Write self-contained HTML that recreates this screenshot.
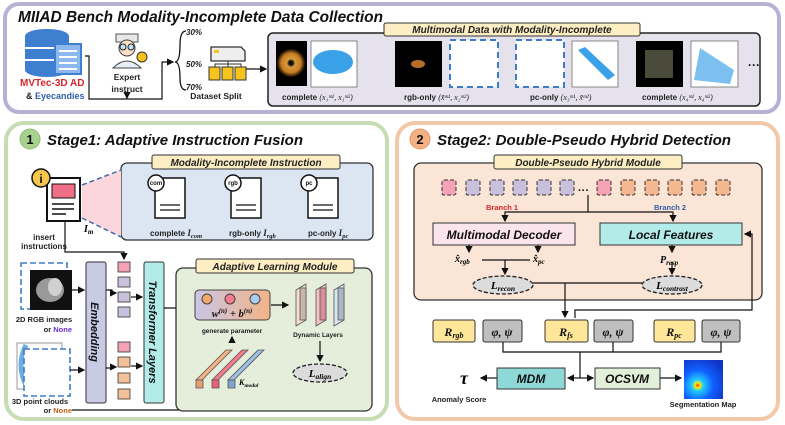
<!DOCTYPE html>
<html><head><meta charset="utf-8"><style>
html,body{margin:0;padding:0;background:#fff;}
svg{display:block;font-family:"Liberation Sans",sans-serif;}
.t{font-weight:bold;font-style:italic;}
.m{font-family:"Liberation Serif",serif;font-style:italic;font-weight:bold;}
</style></head><body>
<svg width="785" height="425" viewBox="0 0 785 425" xmlns="http://www.w3.org/2000/svg">
<defs>
<marker id="a" markerWidth="6" markerHeight="6" refX="5" refY="3" orient="auto"><path d="M0,0 L6,3 L0,6 z" fill="#111"/></marker>
<linearGradient id="g" x1="0" x2="1"><stop offset="0" stop-color="#c9c6e6"/><stop offset="1" stop-color="#f2b487"/></linearGradient>
<radialGradient id="seg" cx="0.35" cy="0.65" r="0.8"><stop offset="0" stop-color="#ff2200"/><stop offset="0.08" stop-color="#ffee00"/><stop offset="0.18" stop-color="#22ccff"/><stop offset="0.5" stop-color="#1060ff"/><stop offset="1" stop-color="#1030c0"/></radialGradient>
<radialGradient id="donut" cx="0.5" cy="0.5" r="0.5"><stop offset="0.15" stop-color="#111"/><stop offset="0.3" stop-color="#d89a3a"/><stop offset="0.7" stop-color="#c57d22"/><stop offset="0.95" stop-color="#2a1a08"/></radialGradient>
</defs>

<!-- TOP PANEL -->
<rect x="5" y="4" width="774" height="108" rx="14" fill="#fff" stroke="#b9b1d4" stroke-width="4"/>
<text x="18" y="22" class="t" font-size="15.5" fill="#111" textLength="365" lengthAdjust="spacingAndGlyphs">MIIAD Bench Modality-Incomplete Data Collection</text>
<!-- database -->
<ellipse cx="47" cy="36" rx="22" ry="7" fill="#3f7fd0"/>
<rect x="25" y="36" width="44" height="34" fill="#3f7fd0"/>
<ellipse cx="47" cy="70" rx="22" ry="7" fill="#3f7fd0"/>
<line x1="25" y1="48" x2="69" y2="48" stroke="#fff" stroke-width="2"/><line x1="25" y1="60" x2="69" y2="60" stroke="#fff" stroke-width="2"/>
<rect x="55" y="44" width="26" height="30" fill="#8db8ee" stroke="#3f7fd0" stroke-width="2"/>
<g stroke="#fff" stroke-width="2"><line x1="59" y1="51" x2="77" y2="51"/><line x1="59" y1="57" x2="77" y2="57"/><line x1="59" y1="63" x2="77" y2="63"/><line x1="59" y1="69" x2="77" y2="69"/></g>
<text x="20" y="86" font-size="10" font-weight="bold" fill="#d9262b">MVTec-3D AD</text>
<text x="26" y="99" font-size="9" font-weight="bold" fill="#222">&amp; <tspan fill="#2f5faa">Eyecandies</tspan></text>
<!-- expert -->
<rect x="116" y="34" width="22" height="8" fill="#e8e8e8" stroke="#555"/>
<circle cx="127" cy="48" r="8" fill="#fde1c6" stroke="#444"/>
<circle cx="123" cy="47" r="3" fill="#bfe4ff" stroke="#222"/><circle cx="131" cy="47" r="3" fill="#bfe4ff" stroke="#222"/>
<path d="M113,68 Q127,54 141,68 Z" fill="#e6eef7" stroke="#444"/>
<circle cx="142" cy="57" r="5" fill="#f7c41d" stroke="#333"/>
<text x="127" y="80" font-size="8.5" font-weight="bold" text-anchor="middle" fill="#222">Expert</text>
<text x="127" y="92" font-size="8.5" font-weight="bold" text-anchor="middle" fill="#222">instruct</text>
<polyline points="85,56 89,56 89,99 162,99 162,62 173,62" fill="none" stroke="#111" stroke-width="1.2" marker-end="url(#a)"/>
<line x1="127" y1="93" x2="127" y2="98" stroke="#111" stroke-width="1.2" marker-end="url(#a)"/>
<path d="M186,31 Q180,31 180,45 Q180,62 175,62 Q180,62 180,78 Q180,90 186,90" fill="none" stroke="#111" stroke-width="1.3"/>
<text x="186" y="35" class="t" font-size="8" fill="#222">30%</text>
<text x="186" y="67" class="t" font-size="8" fill="#222">50%</text>
<text x="186" y="90" class="t" font-size="8" fill="#222">70%</text>
<!-- dataset split icon -->
<path d="M211,47 h30 l4,4 v10 h-34 z" fill="#eee" stroke="#333" stroke-width="1.3"/>
<rect x="214" y="50" width="5" height="3" fill="#f7c41d"/>
<polyline points="228,61 228,64 215,64 215,67" fill="none" stroke="#333"/><line x1="228" y1="64" x2="228" y2="67" stroke="#333"/><polyline points="228,64 241,64 241,67" fill="none" stroke="#333"/>
<rect x="209" y="67" width="11" height="13" fill="#f7c41d" stroke="#333"/><rect x="222" y="67" width="11" height="13" fill="#f7c41d" stroke="#333"/><rect x="235" y="67" width="11" height="13" fill="#f7c41d" stroke="#333"/>
<text x="216" y="99" font-size="8.5" font-weight="bold" text-anchor="middle" fill="#222">Dataset Split</text>
<line x1="246" y1="69" x2="266" y2="69" stroke="#111" stroke-width="1.2" marker-end="url(#a)"/>
<!-- data box -->
<rect x="268" y="33" width="492" height="73" rx="5" fill="#e5e2ee" stroke="#222" stroke-width="1.5"/>
<rect x="384" y="23" width="256" height="13" rx="2" fill="#fdefc3" stroke="#333"/>
<text x="512" y="33" class="t" font-size="10" text-anchor="middle" fill="#222">Multimodal Data with Modality-Incomplete</text>
<rect x="276" y="41" width="31" height="45" fill="#000"/><circle cx="291" cy="63" r="14" fill="url(#donut)"/>
<rect x="311" y="41" width="46" height="46" fill="#fff" stroke="#888"/><ellipse cx="333" cy="62" rx="20" ry="12" fill="#3aa0e8"/>
<rect x="395" y="41" width="47" height="46" fill="#000"/><ellipse cx="418" cy="64" rx="7" ry="4" fill="#b86e2a"/>
<rect x="450" y="40" width="48" height="47" fill="#fff" stroke="#3d7cc9" stroke-width="2" stroke-dasharray="6,4"/>
<rect x="516" y="40" width="48" height="47" fill="#fff" stroke="#3d7cc9" stroke-width="2" stroke-dasharray="6,4"/>
<rect x="572" y="41" width="46" height="46" fill="#fff" stroke="#888"/><path d="M578,50 L585,47 L615,75 L608,80 Z" fill="#3aa0e8"/>
<rect x="636" y="41" width="47" height="46" fill="#000"/><rect x="645" y="50" width="28" height="28" fill="#4a4a3a"/>
<rect x="691" y="41" width="47" height="46" fill="#fff" stroke="#888"/><path d="M694,80 L700,48 L734,70 L730,84 Z" fill="#7cc0f0"/>
<text x="748" y="69" font-size="12" font-weight="bold" fill="#111">···</text>
<g font-size="8" font-weight="bold" fill="#222">
<text x="282" y="100">complete <tspan font-family="Liberation Serif" font-style="italic" font-weight="normal">(x₁ᵐ¹, x₁ᵐ²)</tspan></text>
<text x="404" y="100">rgb-only <tspan font-family="Liberation Serif" font-style="italic" font-weight="normal">(x̃ᵐ¹, x₂ᵐ²)</tspan></text>
<text x="530" y="100">pc-only <tspan font-family="Liberation Serif" font-style="italic" font-weight="normal">(x₃ᵐ¹, x̃ᵐ²)</tspan></text>
<text x="642" y="100">complete <tspan font-family="Liberation Serif" font-style="italic" font-weight="normal">(x₄ᵐ¹, x₄ᵐ²)</tspan></text>
</g>

<!-- STAGE 1 -->
<rect x="6" y="123" width="381" height="296" rx="18" fill="#fff" stroke="#c6dcb2" stroke-width="4"/>
<circle cx="30" cy="139" r="10" fill="#a9d18e" stroke="#8fbf70"/>
<text x="30" y="144" font-size="13" font-weight="bold" text-anchor="middle" fill="#111">1</text>
<text x="47" y="145" class="t" font-size="15" fill="#111" textLength="256" lengthAdjust="spacingAndGlyphs">Stage1: Adaptive Instruction Fusion</text>
<rect x="121" y="163" width="252" height="77" rx="6" fill="#dce5f2" stroke="#333" stroke-width="1.3"/>
<rect x="152" y="155" width="188" height="14" rx="2" fill="#fdefc3" stroke="#333"/>
<text x="246" y="166" class="t" font-size="10" text-anchor="middle" fill="#222">Modality-Incomplete Instruction</text>
<polygon points="82,185 121,170 121,237 82,218" fill="#fbd6da"/>
<line x1="82" y1="185" x2="121" y2="170" stroke="#3d6db0" stroke-width="1.5" stroke-dasharray="5,3"/>
<line x1="82" y1="218" x2="121" y2="237" stroke="#3d6db0" stroke-width="1.5" stroke-dasharray="5,3"/>
<rect x="47" y="178" width="33" height="43" fill="#fff" stroke="#111" stroke-width="2"/>
<rect x="52" y="184" width="23" height="14" fill="#ef6f86" stroke="#111"/>
<g stroke="#111" stroke-width="1.5"><line x1="52" y1="204" x2="74" y2="204"/><line x1="52" y1="209" x2="74" y2="209"/><line x1="52" y1="214" x2="66" y2="214"/></g>
<circle cx="41" cy="178" r="9" fill="#f7c64d" stroke="#111" stroke-width="1.5"/>
<text x="41" y="183" font-size="12" font-weight="bold" text-anchor="middle" fill="#111">i</text>
<text x="84" y="232" class="m" font-size="10">I<tspan font-size="7" dy="2">m</tspan></text>
<text x="44" y="240" font-size="8" font-weight="bold" text-anchor="middle" fill="#222">insert</text>
<text x="44" y="249" font-size="8" font-weight="bold" text-anchor="middle" fill="#222">instructions</text>
<g fill="#fff" stroke="#111" stroke-width="1.5">
<rect x="155" y="178" width="30" height="40"/><rect x="231" y="178" width="30" height="40"/><rect x="308" y="178" width="30" height="40"/></g>
<g stroke="#111" stroke-width="1.3"><line x1="160" y1="205" x2="180" y2="205"/><line x1="160" y1="210" x2="180" y2="210"/><line x1="236" y1="205" x2="256" y2="205"/><line x1="236" y1="210" x2="256" y2="210"/><line x1="313" y1="205" x2="333" y2="205"/><line x1="313" y1="210" x2="333" y2="210"/></g>
<g fill="#fff" stroke="#111" stroke-width="1.5"><circle cx="156" cy="183" r="8"/><circle cx="233" cy="183" r="8"/><circle cx="309" cy="183" r="8"/></g>
<g font-size="6" font-weight="bold" text-anchor="middle" fill="#111"><text x="156" y="185">com</text><text x="233" y="185">rgb</text><text x="309" y="185">pc</text></g>
<g font-size="8" font-weight="bold" fill="#222">
<text x="150" y="236">complete <tspan class="m" font-size="9">I<tspan font-size="6.5" dy="2">com</tspan></tspan></text>
<text x="229" y="236">rgb-only <tspan class="m" font-size="9">I<tspan font-size="6.5" dy="2">rgb</tspan></tspan></text>
<text x="308" y="236">pc-only <tspan class="m" font-size="9">I<tspan font-size="6.5" dy="2">pc</tspan></tspan></text></g>
<polyline points="65,222 65,252 124,252 124,259" fill="none" stroke="#111" stroke-width="1.2" marker-end="url(#a)"/>
<rect x="21" y="263" width="46" height="46" fill="none" stroke="#3d7cc9" stroke-width="1.6" stroke-dasharray="6,3"/>
<rect x="30" y="270" width="42" height="40" fill="#111"/><ellipse cx="50" cy="290" rx="14" ry="12" fill="#999"/><ellipse cx="55" cy="287" rx="7" ry="9" fill="#d0d0d0"/>
<text x="44" y="322" font-size="7.5" font-weight="bold" text-anchor="middle" fill="#222">2D RGB images</text>
<text x="72" y="332" font-size="7.5" font-weight="bold" text-anchor="end" fill="#222">or <tspan fill="#6a2fd6">None</tspan></text>
<rect x="17" y="343" width="45" height="46" fill="#fff" stroke="#999"/>
<path d="M26,345 Q16,365 26,385" stroke="#6aaee6" stroke-width="5" fill="none"/>
<rect x="24" y="349" width="46" height="47" fill="#fff" stroke="#3d7cc9" stroke-width="1.6" stroke-dasharray="6,3"/>
<text x="40" y="404" font-size="7.5" font-weight="bold" text-anchor="middle" fill="#222">3D point clouds</text>
<text x="72" y="413" font-size="7.5" font-weight="bold" text-anchor="end" fill="#222">or <tspan fill="#c0601a">None</tspan></text>
<rect x="86" y="262" width="20" height="141" rx="2" fill="#c9cbe6" stroke="#333"/>
<text transform="translate(91,332) rotate(90)" class="t" font-size="11" text-anchor="middle" fill="#111">Embedding</text>
<rect x="144" y="262" width="20" height="141" rx="2" fill="#b3ebe8" stroke="#333"/>
<text transform="translate(149,332) rotate(90)" class="t" font-size="11" text-anchor="middle" fill="#111">Transformer Layers</text>
<g stroke="#333" stroke-width="0.8">
<rect x="118" y="262" width="12" height="10" fill="#f4a3b5"/><rect x="118" y="277" width="12" height="10" fill="#c9c1dc"/><rect x="118" y="292" width="12" height="10" fill="#c9c1dc"/><rect x="118" y="307" width="12" height="10" fill="#c9c1dc"/>
<rect x="118" y="342" width="12" height="10" fill="#f4a3b5"/><rect x="118" y="357" width="12" height="10" fill="#f4c09a"/><rect x="118" y="373" width="12" height="10" fill="#f4c09a"/><rect x="118" y="389" width="12" height="10" fill="#f4c09a"/></g>
<g stroke="#111" stroke-width="1.2" fill="none">
<line x1="72" y1="290" x2="84" y2="290" marker-end="url(#a)"/><line x1="70" y1="370" x2="84" y2="370" marker-end="url(#a)"/>
<polyline points="106,290 112,290 112,293 116,293" marker-end="url(#a)"/><polyline points="106,368 112,368 112,367 116,367" marker-end="url(#a)"/>
<line x1="131" y1="297" x2="142" y2="297" marker-end="url(#a)"/><line x1="131" y1="366" x2="142" y2="366" marker-end="url(#a)"/>
<polyline points="164,308 180,308 180,307 193,307" marker-end="url(#a)"/>
<polyline points="72,410 232,410 232,390" marker-end="url(#a)"/></g>
<rect x="176" y="268" width="196" height="143" rx="7" fill="#e5eedb" stroke="#333" stroke-width="1.3"/>
<rect x="196" y="259" width="158" height="14" rx="2" fill="#fdefc3" stroke="#333"/>
<text x="275" y="270" class="t" font-size="10" text-anchor="middle" fill="#222">Adaptive Learning Module</text>
<rect x="195" y="290" width="75" height="30" rx="4" fill="url(#g)" stroke="#444"/>
<circle cx="207" cy="299" r="5" fill="#f4a86a" stroke="#444"/><circle cx="230" cy="299" r="5" fill="#f47a8d" stroke="#444"/><circle cx="255" cy="299" r="5" fill="#a9ccef" stroke="#444"/>
<text x="232" y="317" class="m" font-size="10.5" text-anchor="middle" fill="#111">w<tspan font-size="7" dy="-4">(n)</tspan><tspan dy="4"> + b</tspan><tspan font-size="7" dy="-4">(n)</tspan></text>
<text x="232" y="333" font-size="6.5" font-weight="bold" text-anchor="middle" fill="#222">generate parameter</text>
<line x1="271" y1="305" x2="288" y2="305" stroke="#111" stroke-width="1.2" marker-end="url(#a)"/>
<g stroke="#555" stroke-width="0.8">
<polygon points="296,290 306,284 306,320 296,326" fill="#f8dccd"/><rect x="300" y="288" width="6" height="32" fill="#c9b6aa"/>
<polygon points="316,290 326,284 326,320 316,326" fill="#f6c0c6"/><rect x="320" y="288" width="6" height="32" fill="#d88d98"/>
<polygon points="334,290 344,284 344,320 334,326" fill="#dbe6f4"/><rect x="338" y="288" width="6" height="32" fill="#aab6c6"/></g>
<text x="318" y="337" font-size="6.5" font-weight="bold" text-anchor="middle" fill="#222">Dynamic Layers</text>
<line x1="320" y1="341" x2="320" y2="361" stroke="#111" stroke-width="1.2" marker-end="url(#a)"/>
<ellipse cx="320" cy="373" rx="27" ry="9" fill="#dcdcdc" stroke="#222" stroke-width="1.3" stroke-dasharray="4,2"/>
<text x="320" y="377" class="m" font-size="11" text-anchor="middle">L<tspan font-size="7.5" dy="2">align</tspan></text>
<g stroke="#555" stroke-width="0.8">
<polygon points="196,380 226,350 232,350 202,380" fill="#f4b183"/><rect x="196" y="380" width="7" height="8" fill="#e8a070"/>
<polygon points="212,380 242,350 248,350 218,380" fill="#f47a8d"/><rect x="212" y="380" width="7" height="8" fill="#e8607a"/>
<polygon points="228,380 258,350 264,350 234,380" fill="#9dbfe3"/><rect x="228" y="380" width="7" height="8" fill="#7fa5d0"/></g>
<text x="239" y="385" class="m" font-size="8">K<tspan font-size="5.5" dy="2">modal</tspan></text>
<line x1="232" y1="343" x2="232" y2="337" stroke="#111" stroke-width="1.2" marker-end="url(#a)"/>

<!-- STAGE 2 -->
<rect x="397" y="123" width="381" height="296" rx="18" fill="#fff" stroke="#f3c8a8" stroke-width="4"/>
<circle cx="420" cy="139" r="10" fill="#f4b183" stroke="#e39a66"/>
<text x="420" y="144" font-size="13" font-weight="bold" text-anchor="middle" fill="#111">2</text>
<text x="437" y="145" class="t" font-size="15" fill="#111" textLength="294" lengthAdjust="spacingAndGlyphs">Stage2: Double-Pseudo Hybrid Detection</text>
<rect x="414" y="163" width="348" height="137" rx="7" fill="#fbe5d6" stroke="#333" stroke-width="1.3"/>
<rect x="494" y="155" width="188" height="14" rx="2" fill="#fdefc3" stroke="#333"/>
<text x="588" y="166" class="t" font-size="10" text-anchor="middle" fill="#222">Double-Pseudo Hybrid Module</text>
<g stroke="#333" stroke-width="1" stroke-dasharray="4,2">
<rect x="442" y="180" width="14" height="15" rx="2" fill="#f4a3b5"/>
<rect x="466" y="180" width="14" height="15" rx="2" fill="#c9c1dc"/><rect x="490" y="180" width="14" height="15" rx="2" fill="#c9c1dc"/><rect x="513" y="180" width="14" height="15" rx="2" fill="#c9c1dc"/><rect x="537" y="180" width="14" height="15" rx="2" fill="#c9c1dc"/><rect x="560" y="180" width="14" height="15" rx="2" fill="#c9c1dc"/>
<rect x="597" y="180" width="14" height="15" rx="2" fill="#f4a3b5"/>
<rect x="621" y="180" width="14" height="15" rx="2" fill="#f4b890"/><rect x="645" y="180" width="14" height="15" rx="2" fill="#f4b890"/><rect x="668" y="180" width="14" height="15" rx="2" fill="#f4b890"/><rect x="692" y="180" width="14" height="15" rx="2" fill="#f4b890"/><rect x="716" y="180" width="14" height="15" rx="2" fill="#f4b890"/></g>
<text x="578" y="194" font-size="11" font-weight="bold" fill="#111">···</text>
<text x="486" y="210" font-size="7.5" font-weight="bold" fill="#d9262b">Branch 1</text>
<text x="654" y="210" font-size="7.5" font-weight="bold" fill="#2f5faa">Branch 2</text>
<g stroke="#111" stroke-width="1.2" fill="none">
<polyline points="588,195 588,212 505,212 505,221" marker-end="url(#a)"/><polyline points="588,212 673,212 673,221" marker-end="url(#a)"/></g>
<rect x="433" y="223" width="142" height="22" fill="#fce4ec" stroke="#333"/>
<text x="504" y="239" class="t" font-size="12" text-anchor="middle" fill="#111">Multimodal Decoder</text>
<rect x="600" y="223" width="142" height="22" fill="#b3ebe8" stroke="#333"/>
<text x="671" y="239" class="t" font-size="12" text-anchor="middle" fill="#111">Local Features</text>
<g stroke="#111" stroke-width="1.2" fill="none">
<line x1="469" y1="245" x2="469" y2="252" marker-end="url(#a)"/><line x1="538" y1="245" x2="538" y2="252" marker-end="url(#a)"/>
<line x1="482" y1="260" x2="530" y2="260"/><line x1="505" y1="260" x2="505" y2="274" marker-end="url(#a)"/>
<line x1="672" y1="245" x2="672" y2="252" marker-end="url(#a)"/><line x1="672" y1="262" x2="672" y2="274" marker-end="url(#a)"/>
<line x1="533" y1="283" x2="642" y2="283"/><line x1="565" y1="283" x2="565" y2="317" marker-end="url(#a)"/>
<polyline points="575,318 575,310 752,310 752,234 745,234" marker-end="url(#a)"/></g>
<text x="455" y="262" class="m" font-size="10">x̂<tspan font-size="7" dy="2">rgb</tspan></text>
<text x="533" y="262" class="m" font-size="10">x̂<tspan font-size="7" dy="2">pc</tspan></text>
<text x="660" y="263" class="m" font-size="10">P<tspan font-size="7" dy="2">resp</tspan></text>
<ellipse cx="503" cy="285" rx="30" ry="9" fill="#dcdcdc" stroke="#222" stroke-width="1.3" stroke-dasharray="4,2"/>
<text x="503" y="289" class="m" font-size="11" text-anchor="middle">L<tspan font-size="7.5" dy="2">recon</tspan></text>
<ellipse cx="672" cy="285" rx="30" ry="9" fill="#dcdcdc" stroke="#222" stroke-width="1.3" stroke-dasharray="4,2"/>
<text x="672" y="289" class="m" font-size="11" text-anchor="middle">L<tspan font-size="7.5" dy="2">contrast</tspan></text>
<g stroke="#333"><rect x="433" y="320" width="42" height="22" rx="2" fill="#ffe699"/><rect x="483" y="320" width="39" height="22" rx="2" fill="#bfbfbf"/>
<rect x="545" y="320" width="43" height="22" rx="2" fill="#ffe699"/><rect x="594" y="320" width="39" height="22" rx="2" fill="#bfbfbf"/>
<rect x="654" y="320" width="41" height="22" rx="2" fill="#ffe699"/><rect x="702" y="320" width="38" height="22" rx="2" fill="#bfbfbf"/></g>
<g class="m" font-size="12" text-anchor="middle" fill="#111">
<text x="454" y="336">R<tspan font-size="8" dy="2">rgb</tspan></text><text x="502" y="336">φ, ψ</text>
<text x="566" y="336">R<tspan font-size="8" dy="2">fs</tspan></text><text x="613" y="336">φ, ψ</text>
<text x="674" y="336">R<tspan font-size="8" dy="2">pc</tspan></text><text x="721" y="336">φ, ψ</text></g>
<g stroke="#111" stroke-width="1.2" fill="none">
<polyline points="503,342 503,352 721,352 721,342"/><line x1="613" y1="342" x2="613" y2="352"/>
<line x1="580" y1="352" x2="580" y2="378"/>
<line x1="580" y1="378" x2="568" y2="378" marker-end="url(#a)"/><line x1="580" y1="378" x2="593" y2="378" marker-end="url(#a)"/>
<line x1="497" y1="378" x2="481" y2="378" marker-end="url(#a)"/><line x1="660" y1="378" x2="681" y2="378" marker-end="url(#a)"/></g>
<rect x="497" y="368" width="68" height="21" fill="#8fd8d8" stroke="#333"/>
<text x="531" y="383" class="t" font-size="12" text-anchor="middle" fill="#111">MDM</text>
<rect x="595" y="368" width="65" height="21" fill="#e2efd9" stroke="#333"/>
<text x="627" y="383" class="t" font-size="12" text-anchor="middle" fill="#111">OCSVM</text>
<text x="464" y="384" class="m" font-size="18" text-anchor="middle">τ</text>
<text x="459" y="402" font-size="7.5" font-weight="bold" text-anchor="middle" fill="#222">Anomaly Score</text>
<rect x="684" y="360" width="39" height="39" fill="url(#seg)"/>
<text x="703" y="407" font-size="7.5" font-weight="bold" text-anchor="middle" fill="#222">Segmentation Map</text>
</svg>
</body></html>
